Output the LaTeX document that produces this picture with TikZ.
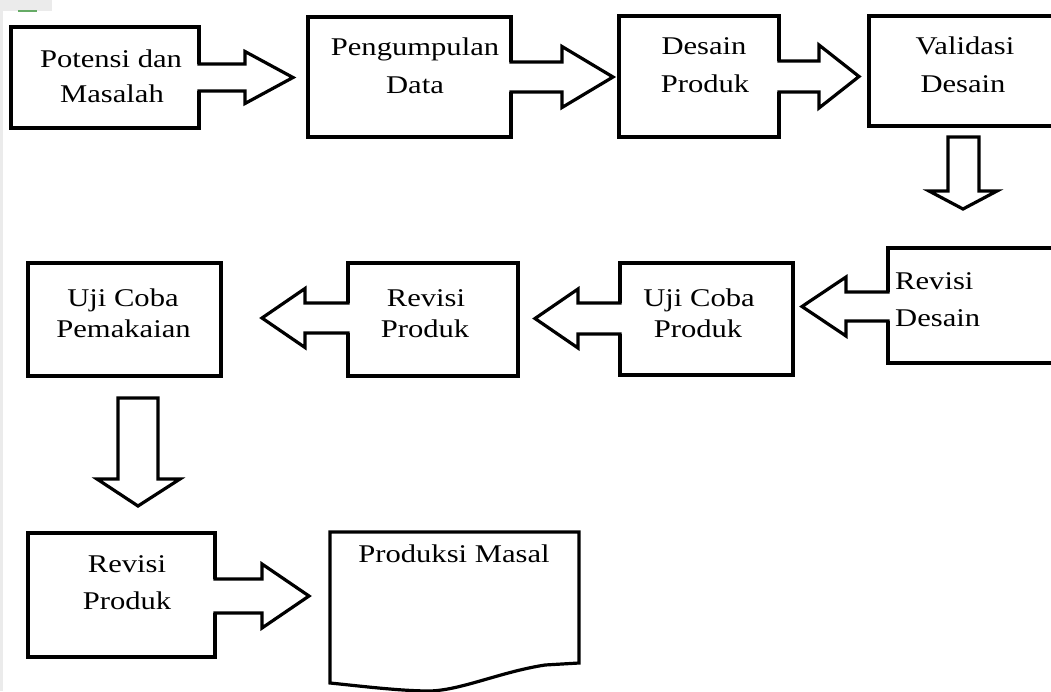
\documentclass[tikz,border=0pt]{standalone}
\usepackage{fontspec}
\setmainfont{Liberation Serif}[FakeStretch=1.2]
\usetikzlibrary{fit,calc}
\tikzset{
  box/.style={draw=black, line width=3.2pt, inner sep=0pt, fill=none},
  blk/.style={draw=black, line width=3.2pt, line cap=rect, line join=miter},
  txt/.style={font=\fontsize{25.5}{30}\selectfont, text=black, inner sep=0pt, anchor=base},
  txtl/.style={txt, anchor=base west},
}
% box: name, x1, y1, x2, y2
\newcommand\bx[5]{%
  \path (#2,#3) coordinate (#1nw) (#4,#5) coordinate (#1se);
  \node[box, fit=(#1nw)(#1se)] (#1) {};}
% horizontal block arrow: x0 (box edge), yc, shaft half, head base x, head half, tip x
\newcommand\harr[6]{%
  \fill[white] ({#1-2.4},{#2-#3}) rectangle ({#1+2.4},{#2+#3});
  \draw[blk] (#1,{#2-#3}) -- (#4,{#2-#3}) -- (#4,{#2-#5}) -- (#6,#2)
     -- (#4,{#2+#5}) -- (#4,{#2+#3}) -- (#1,{#2+#3});}
\begin{document}
\begin{tikzpicture}[x=1pt,y=-1pt]
\path[use as bounding box, clip] (0,0) rectangle (1051,691);
\fill[white] (0,0) rectangle (1051,691);
% window remnants
\fill[black!8] (0,0) rectangle (3,691);
\fill[black!8] (0,0) rectangle (52,11);
\fill[green!45!black!60] (18,9.5) rectangle (37,11.5);

% boxes
\bx{b1}{11}{27}{199}{128}
\bx{b2}{308}{17}{511}{137}
\bx{b3}{619}{16}{779}{137}
\bx{b4}{869}{16}{1065}{126}
\bx{b5}{888}{248}{1065}{363}
\bx{b6}{620}{263}{793}{375}
\bx{b7}{348}{263}{518}{376}
\bx{b8}{28}{263}{221}{376}
\bx{b9}{28}{533}{215}{657}

% document shape
\draw[box] (330,532) -- (579,532) -- (579,663) -- (545,665)
  .. controls (500,672) and (462,690) .. (430,691)
  .. controls (400,691) and (360,686) .. (330,683) -- cycle;
\node[txt] (t10) at (454,562) {Produksi Masal};

% block arrows (horizontal)
\harr{199}{77.5}{13.5}{245}{26}{293}
\harr{511}{77}{15}{562}{30.5}{613}
\harr{779}{76.5}{15.5}{819}{31.5}{859}
\harr{888}{306.5}{14.5}{846}{29.5}{802}
\harr{620}{318.5}{15.5}{578}{29.5}{535}
\harr{348}{318}{15}{305}{29.5}{262}
\harr{215}{596}{17}{262}{32}{309}

% down arrows
\draw[blk] (948,137) -- (979,137) -- (979,191) -- (997,191) -- (963,209)
  -- (929,191) -- (948,191) -- cycle;
\draw[blk] (118,398) -- (158,398) -- (158,479) -- (180,479) -- (138,506)
  -- (97,479) -- (118,479) -- cycle;

% texts
\node[txt] (t1a) at (111,67) {Potensi dan};
\node[txt] (t1b) at (112,102) {Masalah};
\node[txt] (t2a) at (415,55) {Pengumpulan};
\node[txt] (t2b) at (415,93) {Data};
\node[txt] (t3a) at (704,54) {Desain};
\node[txt] (t3b) at (705,92) {Produk};
\node[txt] (t4a) at (965,54) {Validasi};
\node[txt] (t4b) at (963,92) {Desain};
\node[txtl] (t5a) at (895,289) {Revisi};
\node[txtl] (t5b) at (895,326) {Desain};
\node[txt] (t6a) at (699,306) {Uji Coba};
\node[txt] (t6b) at (698,337) {Produk};
\node[txt] (t7a) at (426,306) {Revisi};
\node[txt] (t7b) at (425,337) {Produk};
\node[txt] (t8a) at (123,306) {Uji Coba};
\node[txt] (t8b) at (123.5,337) {Pemakaian};
\node[txt] (t9a) at (127,572) {Revisi};
\node[txt] (t9b) at (127,609) {Produk};
\end{tikzpicture}
\end{document}
